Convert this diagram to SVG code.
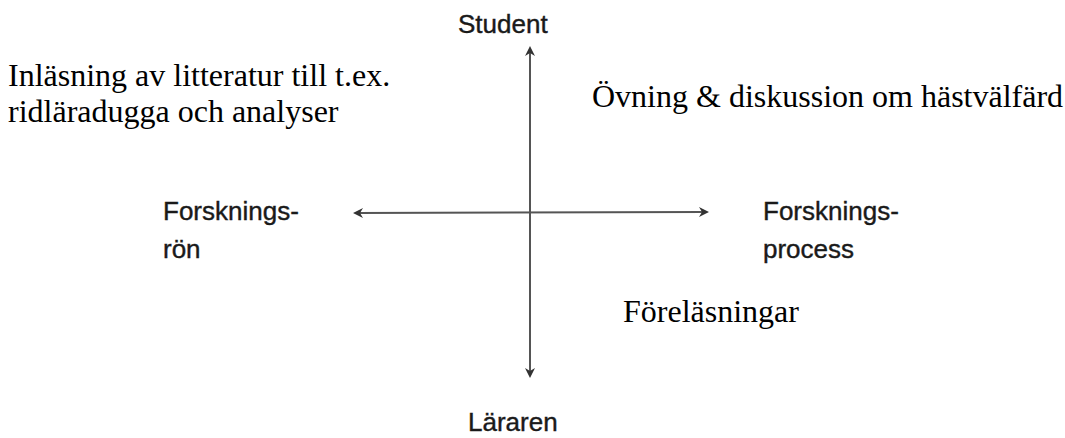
<svg xmlns="http://www.w3.org/2000/svg" width="1065" height="438" viewBox="0 0 1065 438">
<style>
.sans{font-family:"Liberation Sans","Open Sans",Arial,sans-serif;font-size:26px;fill:#1a1a1a;stroke:#1a1a1a;stroke-width:0.4}
.serif{font-family:"Liberation Serif","Times New Roman",serif;font-size:32px;fill:#000}
.axis{stroke:#555;stroke-width:2;fill:none}
.head{fill:#333;stroke:none}
</style>
<rect width="1065" height="438" fill="#fff"/>
<g id="connectors">
<line class="axis" x1="530" y1="50" x2="530" y2="374"/>
<line class="axis" x1="357" y1="213" x2="705" y2="212"/>
<path class="head" d="M530,46 L535,56 L530,53 L525,56 Z"/>
<path class="head" d="M530,378 L535,368 L530,371 L525,368 Z"/>
<path class="head" d="M353,213 L363,208 L360,213 L363,218 Z"/>
<path class="head" d="M709,212 L699,207 L702,212 L699,217 Z"/>
</g>
<g id="student"><text class="sans" x="458" y="33" font-size="28">Student</text></g>
<g id="lararen"><text class="sans" x="468" y="431">Läraren</text></g>
<g id="forskningsron"><text class="sans" x="163" y="220">Forsknings-</text><text class="sans" x="163" y="258">rön</text></g>
<g id="forskningsprocess"><text class="sans" x="763" y="220">Forsknings-</text><text class="sans" x="763" y="258">process</text></g>
<g id="inlasning"><text class="serif" x="8" y="86">Inläsning av litteratur till t.ex.</text><text class="serif" x="8" y="122">ridläradugga och analyser</text></g>
<g id="ovning"><text class="serif" x="592" y="107">Övning &amp; diskussion om hästvälfärd</text></g>
<g id="forelasningar"><text class="serif" x="623" y="322">Föreläsningar</text></g>
</svg>
